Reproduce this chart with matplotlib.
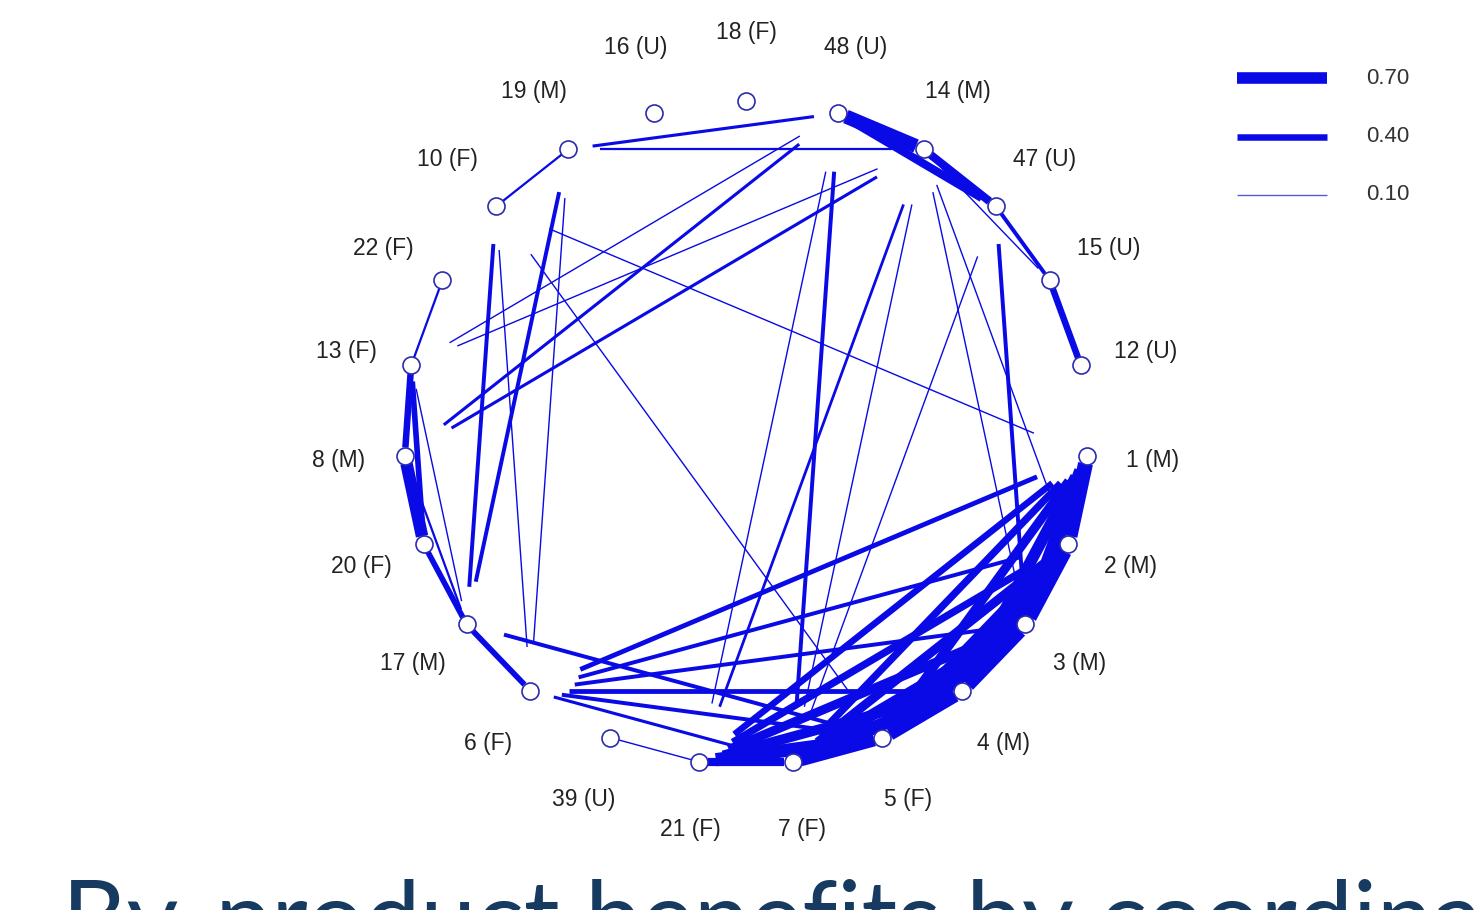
import numpy as np
import matplotlib
matplotlib.use("Agg")
import matplotlib.pyplot as plt

# nodes in clockwise order starting at the top
nodes = ["18 (F)", "48 (U)", "14 (M)", "47 (U)", "15 (U)", "12 (U)", "1 (M)",
         "2 (M)", "3 (M)", "4 (M)", "5 (F)", "7 (F)", "21 (F)", "39 (U)",
         "6 (F)", "17 (M)", "20 (F)", "8 (M)", "13 (F)", "22 (F)", "10 (F)",
         "19 (M)", "16 (U)"]

# ties: (from, to, strength)
edges = [
    ("10", "19", 0.15), ("19", "48", 0.2), ("19", "14", 0.15), ("22", "13", 0.15),
    ("39", "21", 0.1), ("48", "13", 0.1), ("14", "13", 0.1), ("48", "8", 0.2),
    ("14", "8", 0.2), ("48", "7", 0.25), ("48", "21", 0.1), ("14", "21", 0.18),
    ("14", "7", 0.1), ("47", "7", 0.1), ("10", "5", 0.1), ("10", "1", 0.1),
    ("10", "17", 0.25), ("19", "17", 0.25), ("19", "6", 0.1), ("10", "6", 0.1),
    ("14", "3", 0.1), ("14", "2", 0.1), ("47", "3", 0.25),
    ("48", "14", 0.85), ("48", "47", 0.5), ("14", "47", 0.5), ("47", "15", 0.25),
    ("14", "15", 0.1), ("15", "12", 0.4),
    ("13", "8", 0.4), ("8", "20", 0.75), ("13", "20", 0.35), ("13", "17", 0.1),
    ("8", "17", 0.15), ("20", "17", 0.35), ("17", "6", 0.35),
    ("6", "1", 0.3), ("6", "2", 0.25), ("6", "3", 0.25), ("6", "4", 0.3),
    ("6", "5", 0.25), ("6", "7", 0.2), ("17", "5", 0.25),
    ("1", "2", 0.9), ("2", "3", 0.9), ("3", "4", 0.9), ("4", "5", 0.9),
    ("5", "7", 0.8), ("7", "21", 0.5),
    ("1", "3", 0.9), ("1", "4", 0.7), ("1", "5", 0.55), ("1", "7", 0.45), ("1", "21", 0.4),
    ("2", "4", 0.9), ("2", "5", 0.7), ("2", "7", 0.55), ("2", "21", 0.45),
    ("3", "5", 0.9), ("3", "7", 0.7), ("3", "21", 0.55),
    ("4", "7", 0.8), ("4", "21", 0.6), ("5", "21", 0.8),
]

legend_values = [0.70, 0.40, 0.10]
caption = "By-product benefits by coordination"

BLUE = "#0a0ae6"


def width(w):
    # strength -> line width in points (dpi 100)
    return max(17 * w - 0.3, 1.0) * 0.72


def main():
    fig = plt.figure(figsize=(14.76, 9.10), dpi=100)
    ax = fig.add_axes([0, 0, 1, 1])
    ax.set_xlim(0, 1476)
    ax.set_ylim(910, 0)
    ax.axis("off")

    cx, cy, rx, ry = 746, 433, 342, 332
    ang = 2 * np.pi * np.arange(len(nodes)) / len(nodes)
    px = cx + rx * np.sin(ang)
    py = cy - ry * np.cos(ang)
    pos = {n.split()[0]: (x, y) for n, x, y in zip(nodes, px, py)}

    shrink = 0.09
    for a, b, w in edges:
        x0, y0 = pos[a]
        x1, y1 = pos[b]
        dx, dy = x1 - x0, y1 - y0
        ax.plot([x0 + shrink * dx, x1 - shrink * dx], [y0 + shrink * dy, y1 - shrink * dy],
                color=BLUE, lw=width(w), solid_capstyle="butt", zorder=2)

    ax.scatter(px, py, s=150, facecolor="white", edgecolor="#2b2bb0", lw=1.2, zorder=3)

    lx = cx + 408 * np.sin(ang)
    ly = cy - 400 * np.cos(ang)
    for n, x, y in zip(nodes, lx, ly):
        ax.text(x, y, n, ha="center", va="center", fontsize=16.5,
                family="Liberation Sans", color="#222222")

    for i, v in enumerate(legend_values):
        y = 78 + i * 58.5
        ax.plot([1237, 1327], [y, y], color=BLUE if v > 0.2 else "#5a5ad0",
                lw=width(v), solid_capstyle="butt")
        ax.text(1366, y, "%.2f" % v, ha="left", va="center", fontsize=16,
                family="Liberation Sans", color="#333333")

    ax.text(62, 953, caption, ha="left", va="baseline", fontsize=72,
            family="Lato", color="#173a60")

    fig.savefig("out.png", dpi=100)


if __name__ == "__main__":
    main()
